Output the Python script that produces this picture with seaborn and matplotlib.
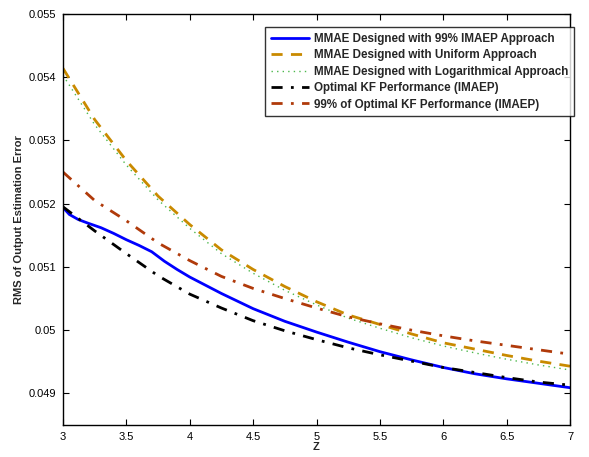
import numpy as np
import pandas as pd
import matplotlib
matplotlib.use("Agg")
import matplotlib.pyplot as plt
import seaborn as sns

# Data
x_common = [3.0, 3.25, 3.5, 3.75, 4.0, 4.25, 4.5, 4.75, 5.0, 5.25, 5.5, 5.75, 6.0, 6.25, 6.5, 6.75, 7.0]
uniform = [0.05414, 0.05333, 0.05268, 0.05212, 0.05167, 0.05127, 0.05096, 0.05069, 0.05045, 0.05024,
           0.05009, 0.04994, 0.04980, 0.04970, 0.04960, 0.04951, 0.04943]
logarithmic = [0.05403, 0.05325, 0.05261, 0.05206, 0.05161, 0.05121, 0.05090, 0.05063, 0.05040, 0.05019,
               0.05003, 0.04988, 0.04975, 0.04964, 0.04954, 0.04945, 0.04937]
ninety_nine = [0.05250, 0.05205, 0.05173, 0.05138, 0.05110, 0.05085, 0.05066, 0.05050, 0.05035, 0.05021,
               0.05010, 0.05000, 0.04991, 0.04983, 0.04976, 0.04969, 0.04962]
optimal = [0.05195, 0.05157, 0.05121, 0.05086, 0.05057, 0.05035, 0.05015, 0.04999, 0.04985, 0.04972,
           0.04961, 0.04951, 0.04941, 0.04933, 0.04925, 0.04918, 0.04913]
x_imaep = [3.0, 3.05, 3.12, 3.2, 3.3, 3.4, 3.5, 3.6, 3.7, 3.8, 3.9, 4.0, 4.25, 4.5, 4.75, 5.0, 5.25,
           5.5, 5.75, 6.0, 6.25, 6.5, 6.75, 7.0]
imaep = [0.05194, 0.05183, 0.05175, 0.05169, 0.05162, 0.05153, 0.05143, 0.05134, 0.05124, 0.05109,
         0.05096, 0.05084, 0.05058, 0.05034, 0.05014, 0.04997, 0.04981, 0.04966, 0.04953, 0.04941,
         0.04931, 0.04923, 0.04916, 0.04909]

labels = ["MMAE Designed with 99% IMAEP Approach",
          "MMAE Designed with Uniform Approach",
          "MMAE Designed with Logarithmical Approach",
          "Optimal KF Performance (IMAEP)",
          "99% of Optimal KF Performance (IMAEP)"]
xticks = [3, 3.5, 4, 4.5, 5, 5.5, 6, 6.5, 7]
xticklabels = ["3", "3.5", "4", "4.5", "5", "5.5", "6", "6.5", "7"]
yticks = [0.049, 0.050, 0.051, 0.052, 0.053, 0.054, 0.055]
yticklabels = ["0.049", "0.05", "0.051", "0.052", "0.053", "0.054", "0.055"]

sns.set_style("white")
plt.rcParams['font.family'] = ['Liberation Sans', 'DejaVu Sans']

fig = plt.figure(figsize=(5.89, 4.57), dpi=100)
ax = fig.add_axes([63/589, 1-425/457, (570-63)/589, (425-14)/457])

df_imaep = pd.DataFrame({"x": x_imaep, "y": imaep})
df_u = pd.DataFrame({"x": x_common, "y": uniform})
df_l = pd.DataFrame({"x": x_common, "y": logarithmic})
df_o = pd.DataFrame({"x": x_common, "y": optimal})
df_n = pd.DataFrame({"x": x_common, "y": ninety_nine})

sns.lineplot(data=df_imaep, x="x", y="y", ax=ax, color="#0000FF", lw=2.0, label=labels[0])
sns.lineplot(data=df_u, x="x", y="y", ax=ax, color="#C98A00", lw=2.0,
             linestyle=(0, (4, 3)), label=labels[1])
sns.lineplot(data=df_l, x="x", y="y", ax=ax, color="#4DB84D", lw=1.0,
             linestyle=(0, (1, 3)), label=labels[2])
sns.lineplot(data=df_o, x="x", y="y", ax=ax, color="black", lw=2.0,
             linestyle=(0, (4, 3, 1, 3)), label=labels[3])
sns.lineplot(data=df_n, x="x", y="y", ax=ax, color="#B03A0A", lw=2.0,
             linestyle=(0, (4, 3, 1, 3)), label=labels[4])

ax.set_xlim(3, 7)
ax.set_ylim(0.0485, 0.055)
ax.set_xticks(xticks)
ax.set_xticklabels(xticklabels)
ax.set_yticks(yticks)
ax.set_yticklabels(yticklabels)
ax.tick_params(direction="in", length=4, width=0.8, labelsize=8, top=True, right=True,
               bottom=True, left=True, colors="black", pad=5)
for sp in ax.spines.values():
    sp.set_color("black")
    sp.set_linewidth(1.0)

ax.set_xlabel("Z", fontsize=8, fontweight="bold", labelpad=0)
ax.set_ylabel("RMS of Output Estimation Error", fontsize=8, fontweight="bold", labelpad=3)

leg = ax.legend(loc="upper right", bbox_to_anchor=(574/589, 1-27/457),
                bbox_transform=fig.transFigure, fontsize=8.4, frameon=True, fancybox=False,
                handlelength=3.3, borderpad=0.5, labelspacing=0.38, handletextpad=0.4,
                borderaxespad=0)
leg.get_frame().set_edgecolor("black")
leg.get_frame().set_linewidth(1.0)
for t in leg.get_texts():
    t.set_fontweight("bold")

fig.savefig("out.png", dpi=100)
